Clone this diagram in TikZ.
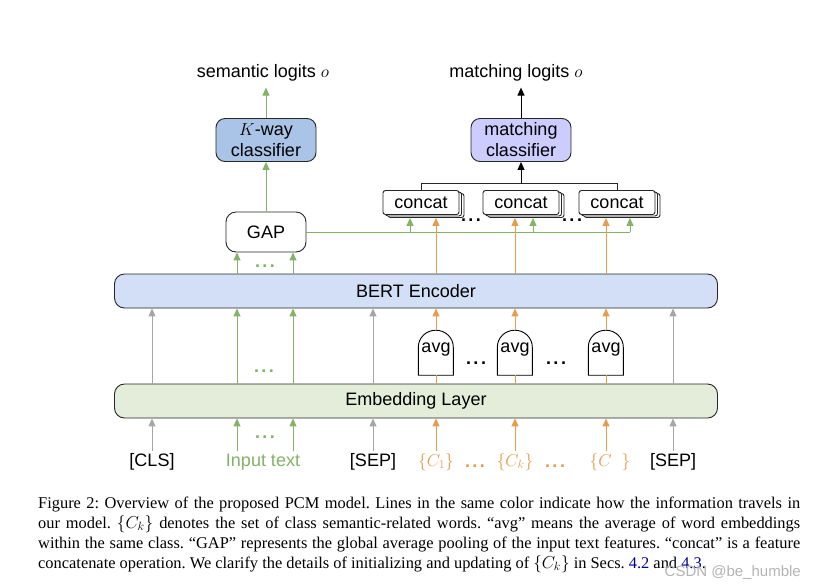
\documentclass[tikz,border=0pt]{standalone}
\usepackage[no-math]{fontspec}
\setmainfont{Liberation Sans}
\newfontfamily\capfont{Liberation Serif}
\usetikzlibrary{arrows.meta,calc}
\definecolor{grn}{HTML}{82B366}
\definecolor{org}{HTML}{E59C4C}
\definecolor{gry}{HTML}{A6A6A6}
\definecolor{kwayfill}{HTML}{A9C4E6}
\definecolor{mclsfill}{HTML}{CCCCFF}
\definecolor{bertfill}{HTML}{D2DFF6}
\definecolor{embfill}{HTML}{E3EDDA}
\definecolor{capblue}{HTML}{000099}
\definecolor{wmark}{HTML}{B4B4B4}
\newcommand\lbl{\fontsize{18}{21}\selectfont}
\newcommand\mydots{\bfseries .\hspace{2.5pt}.\hspace{2.5pt}.}
\begin{document}
\begin{tikzpicture}[x=1pt,y=-1pt,
  box/.style={draw=black!85, line width=0.9pt, rounded corners=9pt, align=center, font=\lbl, inner sep=0pt},
  arr/.style={-{Triangle[length=8pt,width=7pt]}, line width=1pt},
  garr/.style={arr, draw=grn},
  oarr/.style={arr, draw=org},
  oline/.style={draw=org, line width=1pt},
  yarr/.style={arr, draw=gry},
  karr/.style={arr, draw=black},
  catbox/.style={draw=black!85, line width=0.9pt, rounded corners=2.5pt, fill=white, minimum width=76pt, minimum height=24pt, inner sep=0pt, font=\lbl},
  avgbox/.style={minimum width=35pt, minimum height=45pt, inner sep=0pt, font=\lbl},
  avgline/.style={draw=black, line width=0.9pt, fill=white},
  txt/.style={font=\lbl, inner sep=2pt},
  dotstyle/.style={font=\lbl, inner sep=0pt, anchor=base},
]
\useasboundingbox[fill=white] (0,0) rectangle (821,587);

% column coordinates
\coordinate (xcls) at (152,0);
\coordinate (xg1) at (237,0);
\coordinate (xg2) at (293,0);
\coordinate (xsep1) at (373,0);
\coordinate (xo1) at (436,0);
\coordinate (xo2) at (515,0);
\coordinate (xo3) at (606,0);
\coordinate (xsep2) at (673,0);
\coordinate (xc1) at (410,0);
\coordinate (xc2) at (533,0);
\coordinate (xc3) at (630,0);

% top outputs
\node[txt] (semlog) at (263,73) {semantic logits $o$};
\node[txt] (matlog) at (516,73) {matching logits $o$};
\node[box, fill=kwayfill, minimum width=100pt, minimum height=43pt] (kway) at (266,140) {$K$-way\\classifier};
\node[box, fill=mclsfill, minimum width=100pt, minimum height=43pt] (mcls) at (521,140) {matching\\classifier};
\draw[garr, shorten >=4pt] (kway.north) -- (kway.north |- semlog.south);
\draw[karr, shorten >=4pt] (mcls.north) -- (mcls.north |- matlog.south);

% GAP
\node[box, minimum width=80pt, minimum height=40pt, rounded corners=10pt, fill=white] (gap) at (266,232) {GAP};
\draw[garr] (gap.north) -- (kway.south);

% concat boxes (stacked)
\foreach \n/\x in {1/421,2/521,3/617}{
  \node[catbox] (c\n s) at (\x+5,205.5) {};
  \node[catbox] (c\n m) at (\x+2.5,204) {};
  \node[catbox] (c\n) at (\x,202.5) {concat};
}
\draw[line width=0.9pt, black!85] (c1.north) -- ++(0,-7) coordinate (brk) -| (c3.north);
\draw[karr] (c2.north |- brk) -- (mcls.south);
\node[dotstyle] (cd1) at (471,221) {\mydots};
\node[dotstyle] (cd2) at (572,221) {\mydots};

% BERT and Embedding
\node[box, fill=bertfill, minimum width=603pt, minimum height=34pt, rounded corners=10pt] (bert) at (416,291) {BERT Encoder};
\node[box, fill=embfill, minimum width=603pt, minimum height=34pt, rounded corners=10pt] (emb) at (416,401) {Embedding Layer};

% GAP -> concat green line
\draw[grn, line width=1pt] (gap.east) -- (gap.east -| xc3);
\foreach \c/\k in {xc1/c1s, xc2/c2s, xc3/c3s}{
  \draw[garr] (gap.east -| \c) -- (\k.south -| \c);
}
% BERT -> GAP
\draw[garr] (bert.north -| xg1) -- (gap.south -| xg1);
\draw[garr] (bert.north -| xg2) -- (gap.south -| xg2);
\node[dotstyle, text=grn] (gd0) at (265,267) {\mydots};
% BERT -> concat orange
\foreach \c/\k in {xo1/c1s, xo2/c2s, xo3/c3s}{
  \draw[oarr] (bert.north -| \c) -- (\k.south -| \c);
}

% avg shapes
\foreach \n/\x in {1/436,2/515,3/606}{
  \node[avgbox] (a\n) at (\x,352.5) {};
  \draw[avgline] (a\n.south west) -- ++(0,-28) .. controls +(0,-9.4) and +(-9.7,0) .. ++(17.5,-17) .. controls +(9.7,0) and +(0,-9.4) .. ++(17.5,17) -- ++(0,28) -- cycle;
  \node[font=\lbl, inner sep=0pt] at ([yshift=3pt]a\n.center) {avg};
}
\node[dotstyle] (ad1) at (476,364) {\mydots};
\node[dotstyle] (ad2) at (556,364) {\mydots};

% Embedding -> BERT
\foreach \c in {xcls, xsep1, xsep2}{
  \draw[yarr] (emb.north -| \c) -- (bert.south -| \c);
}
\draw[garr] (emb.north -| xg1) -- (bert.south -| xg1);
\draw[garr] (emb.north -| xg2) -- (bert.south -| xg2);
\node[dotstyle, text=grn] (gd1) at (264,372) {\mydots};
\foreach \n in {1,2,3}{
  \draw[oline] (emb.north -| a\n) -- (a\n.south);
  \draw[oarr] (a\n.north) -- (bert.south -| a\n);
}

% input labels
\node[txt, anchor=base] (cls) at (152,466) {[CLS]};
\node[txt, anchor=base, text=grn] (intext) at (263,466) {Input text};
\node[txt, anchor=base] (sep1) at (373,466) {[SEP]};
\node[txt, anchor=base, text=org] (k1) at (436,466) {$\{C_1\}$};
\node[txt, anchor=base, text=org] (kk) at (515,466) {$\{C_k\}$};
\node[txt, anchor=base, text=org] (kn) at (610,466) {$\{C\hspace{10pt}\}$};
\node[txt, anchor=base] (sep2) at (673,466) {[SEP]};
\node[dotstyle, text=org] (od1) at (475,467) {\mydots};
\node[dotstyle, text=org] (od2) at (555,467) {\mydots};
\node[dotstyle, text=grn] (gd2) at (265,438) {\mydots};

\draw[yarr] (cls.north) -- (emb.south -| cls);
\draw[yarr] (sep1.north) -- (emb.south -| sep1);
\draw[yarr] (sep2.north) -- (emb.south -| sep2);
\draw[garr] (intext.north -| xg1) -- (emb.south -| xg1);
\draw[garr] (intext.north -| xg2) -- (emb.south -| xg2);
\draw[oarr] (k1.north -| xo1) -- (emb.south -| xo1);
\draw[oarr] (kk.north -| xo2) -- (emb.south -| xo2);
\draw[oarr] (kn.north -| xo3) -- (emb.south -| xo3);

% caption
\begin{scope}[every node/.style={anchor=base west, inner sep=0pt, font=\capfont\frenchspacing\fontsize{16.4}{20}\selectfont}]
\node (cap1) at (38,508) {\makebox[762pt][s]{Figure 2: Overview of the proposed PCM model. Lines in the same color indicate how the information travels in}};
\node (cap2) at (38,528) {\makebox[762pt][s]{our model. $\{C_k\}$ denotes the set of class semantic-related words. “avg” means the average of word embeddings}};
\node (cap3) at (38,548) {\makebox[762pt][s]{within the same class. “GAP” represents the global average pooling of the input text features. “concat” is a feature}};
\node (cap4) at (38,568) {concatenate operation. We clarify the details of initializing and updating of $\{C_k\}$ in Secs. \textcolor{capblue}{4.2} and \textcolor{capblue}{4.3}.};
\end{scope}
\node[anchor=base east, inner sep=0pt, text=wmark, font=\fontsize{15}{18}\selectfont] (wm) at (801,576) {CSDN @be\_humble};
\end{tikzpicture}
\end{document}
